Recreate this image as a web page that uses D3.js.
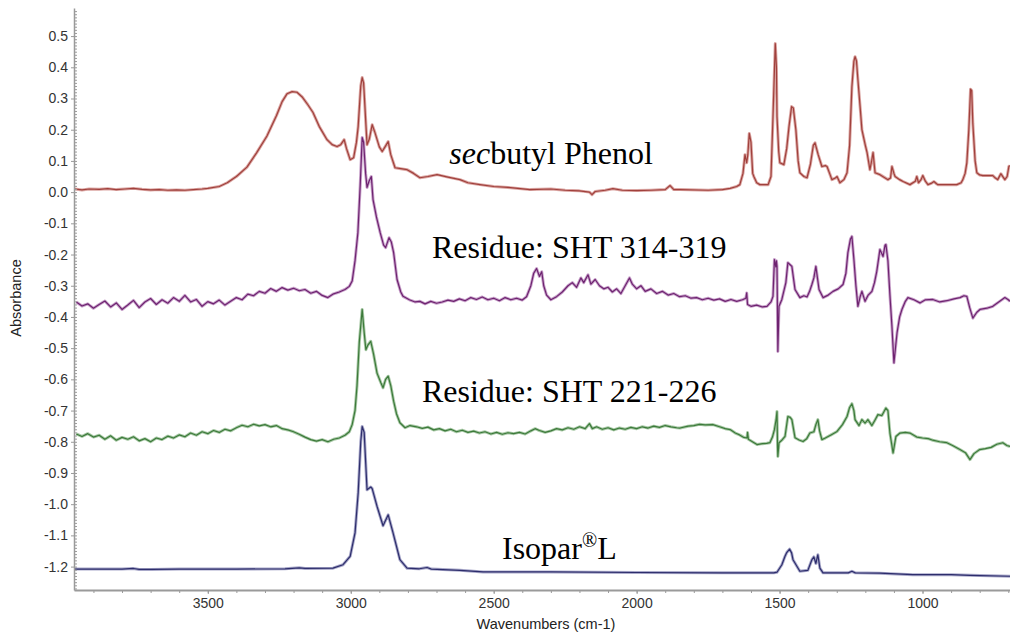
<!DOCTYPE html>
<html>
<head>
<meta charset="utf-8">
<script src="https://cdn.jsdelivr.net/npm/d3@7"></script>
<style>
  body { margin: 0; background: #fff; }
  svg { display: block; }
  .tick text { font-family: "Liberation Sans", Arial, sans-serif; font-size: 14px; fill: #333; }
  .axis path, .axis line { stroke: #9a9a9a; }
  .note { font-family: "Liberation Serif", "Times New Roman", serif; font-size: 32px; fill: #000; }
</style>
</head>
<body>
<script>

//Size of the picture
var w = 1010;
var h = 635;

//Tick labels
var xTicks = [3500, 3000, 2500, 2000, 1500, 1000];
var yTicks = [0.5, 0.4, 0.3, 0.2, 0.1, 0.0, -0.1, -0.2, -0.3, -0.4, -0.5, -0.6, -0.7, -0.8, -0.9, -1.0, -1.1, -1.2];

//Spectra as [wavenumber, absorbance]
var phenol = [
  [3965,0.010],[3940,0.007],[3915,0.010],[3880,0.009],[3850,0.011],[3820,0.008],[3790,0.010],[3760,0.012],[3730,0.009],
  [3700,0.007],[3670,0.008],[3640,0.006],[3610,0.007],[3580,0.006],[3551,0.008],[3520,0.010],[3500,0.012],[3460,0.018],
  [3432,0.030],[3400,0.050],[3363,0.080],[3330,0.125],[3293,0.180],[3260,0.245],[3240,0.290],[3223,0.315],[3205,0.322],
  [3188,0.320],[3170,0.305],[3150,0.280],[3132,0.255],[3110,0.210],[3083,0.168],[3065,0.152],[3048,0.146],[3035,0.152],
  [3023,0.168],[3015,0.140],[3002,0.104],[2990,0.110],[2980,0.160],[2974,0.210],[2965,0.340],[2960,0.367],[2955,0.350],
  [2943,0.152],[2935,0.170],[2925,0.216],[2915,0.190],[2900,0.145],[2890,0.130],[2880,0.145],[2869,0.162],[2860,0.120],
  [2845,0.078],[2825,0.075],[2803,0.072],[2780,0.060],[2758,0.046],[2730,0.050],[2698,0.056],[2660,0.048],[2618,0.040],
  [2590,0.030],[2548,0.024],[2500,0.018],[2450,0.015],[2373,0.008],[2300,0.010],[2250,0.006],[2200,0.004],[2165,0.000],
  [2156,-0.008],[2145,0.002],[2110,0.006],[2083,0.011],[2050,0.006],[2000,0.005],[1950,0.006],[1900,0.008],[1883,0.021],
  [1870,0.008],[1848,0.008],[1750,0.006],[1700,0.008],[1673,0.012],[1650,0.018],[1639,0.024],[1628,0.060],[1621,0.120],
  [1615,0.094],[1611,0.120],[1606,0.188],[1600,0.160],[1594,0.060],[1590,0.050],[1580,0.030],[1569,0.024],[1540,0.024],
  [1530,0.050],[1523,0.242],[1515,0.476],[1511,0.400],[1509,0.242],[1503,0.130],[1499,0.094],[1485,0.088],[1475,0.140],
  [1467,0.210],[1458,0.274],[1452,0.270],[1443,0.200],[1435,0.100],[1429,0.062],[1415,0.050],[1404,0.046],[1392,0.090],
  [1382,0.150],[1376,0.158],[1365,0.120],[1352,0.082],[1340,0.085],[1334,0.082],[1325,0.060],[1317,0.040],[1305,0.045],
  [1299,0.050],[1289,0.030],[1275,0.040],[1264,0.062],[1255,0.150],[1247,0.338],[1240,0.420],[1236,0.434],[1231,0.420],
  [1226,0.360],[1218,0.270],[1212,0.200],[1200,0.150],[1194,0.127],[1184,0.072],[1178,0.100],[1173,0.127],[1166,0.062],
  [1149,0.056],[1135,0.048],[1121,0.040],[1112,0.045],[1107,0.082],[1100,0.060],[1096,0.050],[1080,0.040],[1068,0.034],
  [1044,0.024],[1025,0.035],[1020,0.050],[1014,0.030],[1005,0.040],[999,0.053],[990,0.035],[981,0.024],[970,0.028],
  [960,0.034],[950,0.026],[946,0.024],[900,0.024],[880,0.024],[865,0.030],[859,0.040],[851,0.060],[845,0.094],
  [838,0.200],[832,0.330],[828,0.325],[824,0.220],[816,0.100],[810,0.062],[800,0.055],[789,0.053],[770,0.053],
  [754,0.053],[745,0.045],[737,0.040],[730,0.052],[726,0.059],[718,0.048],[712,0.040],[704,0.050],[698,0.082],[694,0.085]
];

var residue314 = [
  [3960,-0.352],[3940,-0.365],[3920,-0.358],[3900,-0.372],[3880,-0.360],[3860,-0.349],[3840,-0.368],[3820,-0.355],
  [3800,-0.376],[3780,-0.362],[3760,-0.347],[3740,-0.370],[3720,-0.352],[3700,-0.341],[3680,-0.360],[3660,-0.345],
  [3640,-0.356],[3620,-0.338],[3600,-0.350],[3580,-0.331],[3560,-0.352],[3540,-0.344],[3520,-0.366],[3500,-0.351],
  [3480,-0.358],[3460,-0.346],[3440,-0.362],[3420,-0.350],[3400,-0.338],[3380,-0.345],[3360,-0.327],[3340,-0.332],
  [3320,-0.318],[3300,-0.324],[3280,-0.309],[3260,-0.318],[3240,-0.306],[3220,-0.314],[3200,-0.308],[3180,-0.316],
  [3160,-0.312],[3140,-0.324],[3120,-0.318],[3100,-0.331],[3080,-0.338],[3060,-0.326],[3040,-0.320],[3020,-0.312],
  [3005,-0.302],[2995,-0.285],[2985,-0.220],[2975,-0.130],[2967,0.020],[2960,0.175],[2955,0.160],[2948,0.060],
  [2943,0.015],[2936,0.035],[2928,0.050],[2922,-0.024],[2910,-0.080],[2897,-0.130],[2885,-0.170],[2878,-0.178],
  [2866,-0.146],[2858,-0.160],[2850,-0.194],[2838,-0.280],[2825,-0.320],[2817,-0.334],[2795,-0.345],[2775,-0.352],
  [2758,-0.350],[2740,-0.358],[2720,-0.350],[2700,-0.356],[2680,-0.352],[2660,-0.346],[2640,-0.350],[2620,-0.342],
  [2600,-0.348],[2580,-0.338],[2560,-0.344],[2540,-0.336],[2520,-0.345],[2500,-0.340],[2480,-0.348],[2460,-0.338],
  [2440,-0.345],[2420,-0.340],[2400,-0.346],[2385,-0.335],[2370,-0.300],[2360,-0.260],[2350,-0.245],[2340,-0.270],
  [2332,-0.255],[2325,-0.300],[2315,-0.330],[2300,-0.345],[2280,-0.335],[2260,-0.320],[2240,-0.300],[2225,-0.290],
  [2210,-0.305],[2195,-0.275],[2185,-0.290],[2170,-0.265],[2160,-0.295],[2145,-0.280],[2130,-0.300],[2115,-0.310],
  [2100,-0.305],[2085,-0.320],[2070,-0.310],[2055,-0.325],[2040,-0.300],[2025,-0.275],[2015,-0.295],[2000,-0.310],
  [1985,-0.300],[1970,-0.318],[1950,-0.310],[1930,-0.325],[1910,-0.318],[1890,-0.330],[1870,-0.325],[1850,-0.335],
  [1830,-0.332],[1810,-0.340],[1790,-0.338],[1770,-0.345],[1750,-0.340],[1730,-0.346],[1710,-0.342],[1690,-0.350],
  [1670,-0.344],[1650,-0.350],[1630,-0.345],[1618,-0.340],[1615,-0.323],[1612,-0.360],[1600,-0.366],[1580,-0.362],
  [1560,-0.368],[1544,-0.366],[1530,-0.352],[1523,-0.334],[1518,-0.216],[1513,-0.240],[1511,-0.220],[1509,-0.238],
  [1506,-0.511],[1502,-0.366],[1492,-0.344],[1478,-0.290],[1471,-0.226],[1464,-0.232],[1457,-0.238],[1446,-0.312],
  [1429,-0.338],[1415,-0.332],[1404,-0.336],[1395,-0.318],[1387,-0.296],[1380,-0.275],[1373,-0.238],[1362,-0.312],
  [1348,-0.338],[1330,-0.330],[1313,-0.318],[1295,-0.310],[1278,-0.296],[1268,-0.260],[1261,-0.194],[1252,-0.150],
  [1247,-0.142],[1240,-0.216],[1233,-0.300],[1226,-0.366],[1218,-0.335],[1212,-0.318],[1201,-0.350],[1190,-0.330],
  [1177,-0.318],[1168,-0.290],[1160,-0.254],[1149,-0.184],[1138,-0.206],[1131,-0.170],[1128,-0.168],[1121,-0.220],
  [1114,-0.330],[1107,-0.430],[1100,-0.547],[1089,-0.450],[1080,-0.400],[1072,-0.376],[1060,-0.350],[1051,-0.338],
  [1030,-0.345],[1009,-0.355],[990,-0.345],[964,-0.344],[940,-0.352],[915,-0.348],[890,-0.342],[869,-0.338],
  [855,-0.332],[845,-0.334],[835,-0.370],[824,-0.404],[810,-0.385],[799,-0.376],[775,-0.372],[754,-0.366],
  [730,-0.350],[712,-0.338],[700,-0.345],[694,-0.350]
];

var residue221 = [
  [3960,-0.775],[3940,-0.783],[3920,-0.774],[3900,-0.785],[3880,-0.779],[3860,-0.792],[3840,-0.781],[3820,-0.795],
  [3800,-0.786],[3780,-0.792],[3760,-0.784],[3740,-0.797],[3720,-0.790],[3700,-0.800],[3680,-0.788],[3660,-0.793],
  [3640,-0.782],[3620,-0.788],[3600,-0.778],[3580,-0.784],[3560,-0.772],[3540,-0.779],[3520,-0.768],[3500,-0.774],
  [3480,-0.764],[3460,-0.770],[3440,-0.760],[3420,-0.765],[3400,-0.755],[3380,-0.747],[3360,-0.752],[3340,-0.744],
  [3320,-0.749],[3300,-0.745],[3280,-0.752],[3260,-0.748],[3240,-0.758],[3220,-0.762],[3200,-0.768],[3180,-0.776],
  [3160,-0.785],[3140,-0.793],[3120,-0.798],[3100,-0.793],[3080,-0.800],[3060,-0.792],[3040,-0.788],[3020,-0.779],
  [3005,-0.768],[2995,-0.745],[2985,-0.700],[2978,-0.620],[2970,-0.480],[2960,-0.376],[2953,-0.450],[2947,-0.505],
  [2940,-0.490],[2930,-0.478],[2920,-0.520],[2908,-0.580],[2895,-0.610],[2887,-0.627],[2878,-0.600],[2869,-0.590],
  [2860,-0.620],[2850,-0.670],[2840,-0.710],[2828,-0.739],[2810,-0.755],[2793,-0.748],[2770,-0.752],[2750,-0.757],
  [2730,-0.753],[2710,-0.762],[2690,-0.758],[2670,-0.765],[2650,-0.760],[2630,-0.768],[2610,-0.763],[2590,-0.770],
  [2570,-0.766],[2550,-0.772],[2530,-0.768],[2510,-0.775],[2490,-0.770],[2470,-0.776],[2450,-0.771],[2430,-0.774],
  [2410,-0.770],[2390,-0.775],[2370,-0.765],[2355,-0.758],[2340,-0.764],[2320,-0.770],[2300,-0.765],[2280,-0.758],
  [2260,-0.762],[2240,-0.755],[2220,-0.760],[2200,-0.752],[2180,-0.758],[2165,-0.742],[2155,-0.758],[2140,-0.752],
  [2120,-0.760],[2100,-0.755],[2080,-0.762],[2060,-0.756],[2040,-0.760],[2020,-0.754],[2000,-0.758],[1980,-0.752],
  [1960,-0.756],[1940,-0.750],[1920,-0.754],[1900,-0.748],[1880,-0.752],[1860,-0.755],[1848,-0.756],[1820,-0.750],
  [1800,-0.748],[1780,-0.744],[1760,-0.746],[1733,-0.745],[1710,-0.752],[1690,-0.758],[1673,-0.761],[1655,-0.772],
  [1640,-0.778],[1625,-0.786],[1614,-0.788],[1612,-0.770],[1609,-0.792],[1595,-0.800],[1579,-0.809],[1560,-0.806],
  [1545,-0.805],[1534,-0.803],[1525,-0.785],[1518,-0.761],[1512,-0.728],[1509,-0.703],[1507,-0.820],[1506,-0.847],
  [1502,-0.803],[1492,-0.795],[1481,-0.783],[1471,-0.719],[1463,-0.722],[1457,-0.729],[1446,-0.787],[1430,-0.795],
  [1418,-0.799],[1405,-0.790],[1394,-0.772],[1380,-0.768],[1373,-0.745],[1366,-0.729],[1360,-0.765],[1352,-0.793],
  [1340,-0.788],[1320,-0.778],[1299,-0.767],[1280,-0.745],[1264,-0.719],[1255,-0.690],[1247,-0.678],[1240,-0.700],
  [1236,-0.729],[1222,-0.748],[1212,-0.729],[1201,-0.740],[1191,-0.729],[1177,-0.748],[1166,-0.730],[1156,-0.713],
  [1142,-0.716],[1128,-0.692],[1121,-0.700],[1114,-0.772],[1103,-0.836],[1093,-0.783],[1079,-0.772],[1060,-0.770],
  [1044,-0.772],[1020,-0.785],[1000,-0.788],[980,-0.790],[964,-0.795],[940,-0.800],[915,-0.803],[895,-0.812],
  [869,-0.825],[850,-0.835],[834,-0.857],[820,-0.838],[800,-0.825],[780,-0.822],[760,-0.818],[740,-0.808],
  [719,-0.803],[705,-0.812],[694,-0.815]
];

var isopar = [
  [3965,-1.208],[3800,-1.208],[3760,-1.206],[3740,-1.209],[3700,-1.209],[3600,-1.208],[3400,-1.208],[3230,-1.207],
  [3180,-1.204],[3160,-1.206],[3062,-1.205],[3027,-1.194],[3002,-1.167],[2985,-1.092],[2974,-0.964],[2965,-0.800],
  [2960,-0.751],[2953,-0.770],[2943,-0.954],[2930,-0.945],[2925,-0.950],[2908,-1.007],[2887,-1.069],[2869,-1.034],
  [2852,-1.092],[2828,-1.178],[2803,-1.205],[2760,-1.207],[2733,-1.203],[2718,-1.208],[2618,-1.212],[2537,-1.217],
  [2300,-1.217],[2000,-1.219],[1700,-1.220],[1520,-1.220],[1509,-1.218],[1492,-1.194],[1481,-1.167],[1475,-1.155],
  [1465,-1.144],[1458,-1.156],[1453,-1.178],[1429,-1.215],[1401,-1.212],[1387,-1.178],[1380,-1.169],[1373,-1.190],
  [1366,-1.162],[1359,-1.205],[1348,-1.220],[1260,-1.220],[1247,-1.215],[1235,-1.220],[1150,-1.221],[1034,-1.226],
  [900,-1.226],[834,-1.228],[694,-1.231]
];

//Labels written on the chart, each next to its curve
var notes = [
  { wn: 2655, y: 0.09, parts: [["sec", "italic"], ["butyl Phenol", "normal"]] },
  { wn: 2716, y: -0.21, parts: [["Residue: SHT 314-319", "normal"]] },
  { wn: 2751, y: -0.672, parts: [["Residue: SHT 221-226", "normal"]] },
  { wn: 2471, y: -1.175, parts: [["Isopar", "normal"], ["®", "sup"], ["L", "normal"]] }
];

//Scales
var x = d3.scaleLinear().domain([3968, 694]).range([74, 1010]);
var y = d3.scaleLinear().domain([-1.275, 0.59]).range([590, 8]);

var svg = d3.select("body")
            .append("svg")
            .attr("width", w)
            .attr("height", h);

svg.append("clipPath").attr("id", "plot")
   .append("rect").attr("x", 75).attr("y", 0).attr("width", w - 75).attr("height", 590);

var line = d3.line()
             .x(function(d) { return x(d[0]); })
             .y(function(d) { return y(d[1]); });

var series = [
  { data: phenol, color: "#a0403c", halo: "#dba6a3" },
  { data: residue314, color: "#6e2370", halo: "#c9a3cb" },
  { data: residue221, color: "#3c7a3a", halo: "#a9c9a7" },
  { data: isopar, color: "#2d2d6c", halo: "#a8a8c9" }
];

var g = svg.append("g").attr("clip-path", "url(#plot)");

//Soft edge first, then the line itself
series.forEach(function(s) {
  g.append("path")
   .attr("d", line(s.data))
   .attr("fill", "none")
   .attr("stroke", s.halo)
   .attr("stroke-width", 3)
   .attr("stroke-linejoin", "round");
});
series.forEach(function(s) {
  g.append("path")
   .attr("d", line(s.data))
   .attr("fill", "none")
   .attr("stroke", s.color)
   .attr("stroke-width", 1.2)
   .attr("stroke-linejoin", "round");
});

//Y axis, minor ticks every 0.01
var yMinor = d3.range(-127, 59).map(function(i) { return i / 100; });
svg.append("g")
   .attr("class", "axis")
   .attr("transform", "translate(74,0)")
   .call(d3.axisRight(y).tickValues(yMinor).tickSize(3).tickFormat(""))
   .call(function(a) { a.select(".domain").remove(); });

svg.append("g")
   .attr("class", "axis")
   .attr("transform", "translate(74,0)")
   .call(d3.axisLeft(y).tickValues(yTicks).tickSize(3).tickSizeOuter(0).tickPadding(3)
           .tickFormat(function(d) { return (Math.abs(d) < 1e-9 ? 0 : d).toFixed(1); }))
   .call(function(a) { a.select(".domain").attr("stroke-width", 1.5); });

//X axis, minor ticks every 100
var xMinor = d3.range(700, 4000, 100);
svg.append("g")
   .attr("class", "axis")
   .attr("transform", "translate(0,590)")
   .call(d3.axisBottom(x).tickValues(xMinor).tickSize(3).tickFormat(""))
   .call(function(a) { a.select(".domain").remove(); });

svg.append("g")
   .attr("class", "axis")
   .attr("transform", "translate(0,590)")
   .call(d3.axisBottom(x).tickValues(xTicks).tickSize(4).tickSizeOuter(0).tickPadding(4)
           .tickFormat(d3.format("d")))
   .call(function(a) { a.select(".domain").attr("stroke-width", 2); });

//Axis titles
svg.append("text")
   .attr("x", 546)
   .attr("y", 629)
   .attr("text-anchor", "middle")
   .style("font-family", "'Liberation Sans', Arial, sans-serif")
   .style("font-size", "14.5px")
   .style("fill", "#222")
   .text("Wavenumbers (cm-1)");

svg.append("text")
   .attr("transform", "translate(21,298) rotate(-90)")
   .attr("text-anchor", "middle")
   .style("font-family", "'Liberation Sans', Arial, sans-serif")
   .style("font-size", "14.5px")
   .style("fill", "#222")
   .text("Absorbance");

//Curve names
notes.forEach(function(n) {
  var t = svg.append("text")
             .attr("class", "note")
             .attr("x", x(n.wn))
             .attr("y", y(n.y));
  n.parts.forEach(function(p) {
    var s = t.append("tspan").text(p[0]);
    if (p[1] === "italic") s.style("font-style", "italic");
    if (p[1] === "sup") s.attr("dy", -12).style("font-size", "20px");
    if (p[1] === "normal" && n.parts.length === 3 && p[0] === "L") s.attr("dy", 12);
  });
});

</script>
</body>
</html>
